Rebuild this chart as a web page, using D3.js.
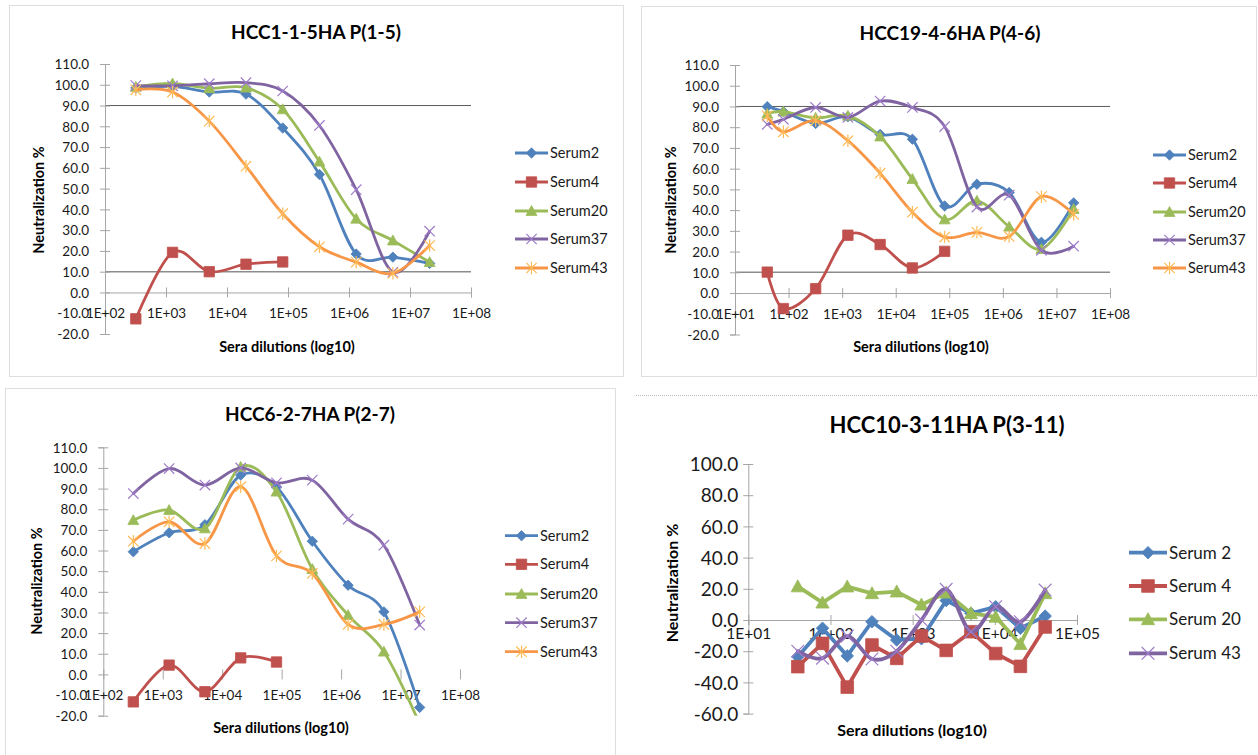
<!DOCTYPE html>
<html>
<head>
<meta charset="utf-8">
<script src="https://cdn.jsdelivr.net/npm/d3@7"></script>
<style>
  body { margin: 0; background: #fff; }
  svg { display: block; font-family: Lato, "Open Sans", sans-serif; }
</style>
</head>
<body>
<svg id="chart" width="1258" height="755"></svg>
<script>
// ---- data ----
const names = ["Serum2", "Serum4", "Serum20", "Serum37", "Serum43"];
const names4 = ["Serum 2", "Serum 4", "Serum 20", "Serum 43"];

const dil1 = [320, 1280, 5120, 20480, 81920, 327680, 1310720, 5242880, 20971520];
const p1Serum2 = [98.5, 99.2, 96.5, 95.5, 79.2, 56.8, 18.5, 17.0, 14.0];
const p1Serum4 = [-12.7, 19.3, 10.0, 13.6, 14.7];
const p1Serum20 = [99.0, 100.6, 98.3, 98.6, 88.2, 63.0, 35.5, 25.0, 14.6];
const p1Serum37 = [99.6, 99.5, 100.5, 101.0, 97.0, 80.4, 49.5, 9.8, 29.5];
const p1Serum43 = [97.6, 96.5, 82.5, 60.8, 37.9, 22.0, 14.6, 9.2, 22.6];

const dil2 = [40, 80, 320, 1280, 5120, 20480, 81920, 327680, 1310720, 5242880, 20971520];
const p2Serum2 = [89.9, 87.5, 81.8, 85.0, 76.5, 74.2, 42.0, 52.5, 48.5, 24.5, 43.5];
const p2Serum4 = [10.1, -7.5, 2.1, 27.9, 23.4, 12.1, 20.1];
const p2Serum20 = [86.5, 87.5, 84.5, 85.5, 75.5, 55.0, 35.5, 44.5, 32.0, 21.2, 40.5];
const p2Serum37 = [81.4, 83.8, 89.5, 84.7, 92.6, 89.5, 80.3, 41.5, 47.2, 20.6, 22.6];
const p2Serum43 = [85.5, 77.8, 83.2, 73.5, 57.8, 39.0, 27.0, 29.3, 27.3, 46.5, 38.0];

const dil3 = [320, 1280, 5120, 20480, 81920, 327680, 1310720, 5242880, 20971520];
const p3Serum2 = [59.4, 68.6, 72.5, 96.5, 90.8, 64.5, 43.2, 30.3, -16.0];
const p3Serum4 = [-13.3, 4.5, -8.4, 8.0, 6.0];
const p3Serum20 = [74.7, 79.6, 70.7, 100.5, 88.5, 51.0, 28.7, 11.0, -24.0];
const p3Serum37 = [87.6, 99.7, 91.7, 100.0, 92.8, 94.1, 75.2, 62.6, 23.9];
const p3Serum43 = [64.5, 73.9, 63.4, 90.9, 57.4, 48.9, 24.2, 24.2, 30.3];

const dil4 = [40, 80, 160, 320, 640, 1280, 2560, 5120, 10240, 20480, 40960];
const p4Serum2 = [-23.5, -5.3, -23.0, -1.1, -12.8, -12.0, 12.5, 4.3, 8.5, -5.3, 2.5];
const p4Serum4 = [-29.9, -15.0, -43.0, -16.0, -24.6, -10.3, -19.5, -7.5, -21.5, -29.7, -4.5];
const p4Serum20 = [21.5, 11.1, 21.4, 17.1, 18.2, 9.8, 17.5, 4.3, 2.0, -15.5, 17.1];
const p4Serum43 = [-20.0, -24.5, -10.3, -25.0, -20.0, 0.0, 19.7, -7.5, 8.5, -1.1, 19.2];

const yTicks1 = d3.range(-20, 111, 10);
const yTicks4 = d3.range(-60, 101, 20);
const decades1 = [1e2, 1e3, 1e4, 1e5, 1e6, 1e7, 1e8];
const decades2 = [1e1, 1e2, 1e3, 1e4, 1e5, 1e6, 1e7, 1e8];
const decades4 = [1e1, 1e2, 1e3, 1e4, 1e5];

// ---- styling ----
const colors = ["#4F81BD", "#C0504D", "#9BBB59", "#8064A2", "#F79646"];
const markerTypes = ["diamond", "square", "triangle", "x", "star"];

function makeSeries(list, vals, ids, smooth) {
    return list.map((name, i) => ({
        name: name,
        values: vals[i],
        color: colors[ids[i]],
        marker: markerTypes[ids[i]],
        smooth: smooth[i]
    }));
}

const panels = [
    {
        title: "HCC1-1-5HA P(1-5)", titleX: 316, titleY: 32, titleSize: 19,
        border: [9, 5, 614, 371], x: [1e2, 1e8], xr: [105, 471], y: [-20, 110], yr: [334, 64],
        yTicks: yTicks1, decades: decades1, refLines: [90, 10], xAxisLine: true,
        dil: dil1, yLabel: [39, 200], xLabel: [287, 347], axisSize: 14.5,
        tickSize: 13.5, xTickSize: 13.5, yPad: -16, xPad: 21,
        legend: {x1: 515, x2: 548, tx: 550, rows: [153, 182, 211, 239, 268], size: 14.5},
        lw: 2.8, ms: 5.2,
        series: makeSeries(names, [p1Serum2, p1Serum4, p1Serum20, p1Serum37, p1Serum43],
            [0, 1, 2, 3, 4], [true, true, true, true, true])
    },
    {
        title: "HCC19-4-6HA P(4-6)", titleX: 950, titleY: 33, titleSize: 19,
        border: [641, 6, 615, 370], x: [1e1, 1e8], xr: [735, 1110], y: [-20, 110], yr: [334.5, 65],
        yTicks: yTicks1, decades: decades2, refLines: [90, 10], xAxisLine: true,
        dil: dil2, yLabel: [671, 200], xLabel: [921, 347], axisSize: 14.5,
        tickSize: 13.5, xTickSize: 13.5, yPad: -16, xPad: 21,
        legend: {x1: 1153, x2: 1186, tx: 1188, rows: [155, 183, 212, 240, 268], size: 14.5},
        lw: 2.8, ms: 5.2,
        series: makeSeries(names, [p2Serum2, p2Serum4, p2Serum20, p2Serum37, p2Serum43],
            [0, 1, 2, 3, 4], [true, true, true, true, true])
    },
    {
        title: "HCC6-2-7HA P(2-7)", titleX: 310, titleY: 414, titleSize: 19,
        border: [5, 388, 610, 380], x: [1e2, 1e8], xr: [103.3, 460], y: [-20, 110], yr: [715.7, 447.3],
        yTicks: yTicks1, decades: decades1, refLines: [], xAxisLine: false,
        dil: dil3, yLabel: [37, 581], xLabel: [281, 728], axisSize: 14.5,
        tickSize: 13.5, xTickSize: 13.5, yPad: -16, xPad: 21,
        legend: {x1: 505, x2: 538, tx: 540, rows: [535.7, 564.3, 594, 622.7, 651.7], size: 14.5},
        lw: 2.8, ms: 5.2,
        series: makeSeries(names, [p3Serum2, p3Serum4, p3Serum20, p3Serum37, p3Serum43],
            [0, 1, 2, 3, 4], [true, true, true, true, true])
    },
    {
        title: "HCC10-3-11HA P(3-11)", titleX: 947, titleY: 425, titleSize: 22,
        border: null, x: [1e1, 1e5], xr: [748.3, 1077], y: [-60, 100], yr: [713.6, 464],
        yTicks: yTicks4, decades: decades4, refLines: [], xAxisLine: true,
        dil: dil4, yLabel: [672, 583], xLabel: [912, 730], axisSize: 16,
        tickSize: 19, xTickSize: 15.5, yPad: -10, xPad: 14,
        legend: {x1: 1129, x2: 1167, tx: 1169, rows: [552.7, 586, 619.3, 653.3], size: 17},
        lw: 3.8, ms: 6.3,
        series: makeSeries(names4, [p4Serum2, p4Serum4, p4Serum20, p4Serum43],
            [0, 1, 2, 3], [false, false, false, true])
    }
];

const svg = d3.select("#chart");
svg.append("rect").attr("width", 1258).attr("height", 755).attr("fill", "#fff");

// top border of the 4th panel only
svg.append("line")
    .attr("x1", 636).attr("x2", 1258).attr("y1", 395.5).attr("y2", 395.5)
    .attr("stroke", "#bdbdbd").attr("stroke-dasharray", "1,1");

function markerPath(type, s) {
    switch (type) {
        case "diamond": return `M0,${-s}L${s},0L0,${s}L${-s},0Z`;
        case "square": return `M${-s},${-s}h${2 * s}v${2 * s}h${-2 * s}Z`;
        case "triangle": return `M0,${-s * 1.05}L${s * 1.05},${s * 0.85}L${-s * 1.05},${s * 0.85}Z`;
        case "x": return `M${-s},${-s}L${s},${s}M${-s},${s}L${s},${-s}`;
        default: return `M${-s},${-s}L${s},${s}M${-s},${s}L${s},${-s}M0,${-s * 1.2}V${s * 1.2}`;
    }
}

function drawMarker(g, type, color, s) {
    const open = type === "x" || type === "star";
    g.append("path")
        .attr("d", markerPath(type, s))
        .attr("fill", open ? "none" : color)
        .attr("stroke", open ? d3.color(color).brighter(0.6) : color)
        .attr("stroke-width", open ? 1.2 : 0.8);
}

const fmtY = v => v.toFixed(1);
const fmtX = v => "1E+" + String(Math.round(Math.log10(v))).padStart(2, "0");

panels.forEach((p, pi) => {
    const g = svg.append("g").attr("class", "panel");

    if (p.border) {
        const [bx, by, bw, bh] = p.border;
        g.append("rect")
            .attr("x", bx + 0.5).attr("y", by + 0.5).attr("width", bw).attr("height", bh)
            .attr("fill", "none").attr("stroke", "#bdbdbd").attr("stroke-dasharray", "1,1");
    }

    const x = d3.scaleLog().domain(p.x).range(p.xr);
    const y = d3.scaleLinear().domain(p.y).range(p.yr);

    // title
    g.append("text")
        .attr("x", p.titleX).attr("y", p.titleY).attr("dy", "0.35em")
        .attr("text-anchor", "middle").attr("font-weight", 700)
        .attr("font-size", p.titleSize).attr("fill", "#000")
        .text(p.title);

    // reference lines
    p.refLines.forEach((v, i) => {
        g.append("line")
            .attr("x1", p.xr[0]).attr("x2", p.xr[1])
            .attr("y1", y(v)).attr("y2", y(v))
            .attr("stroke", i === 0 ? "#5a5a5a" : "#8c8c8c")
            .attr("stroke-width", i === 0 ? 1 : 1.6);
    });

    // y axis
    const ya = g.append("g")
        .attr("transform", `translate(${p.xr[0]},0)`)
        .call(d3.axisLeft(y).tickValues(p.yTicks).tickFormat(fmtY).tickSizeOuter(0).tickSize(5));
    ya.select(".domain").attr("stroke", "#a6a6a6");
    ya.selectAll(".tick line").attr("stroke", "#a6a6a6").attr("x1", 5).attr("x2", -5);
    ya.selectAll(".tick text")
        .attr("x", p.yPad).attr("dy", "0.35em")
        .attr("font-size", p.tickSize).attr("fill", "#1a1a1a")
        .attr("font-family", "Lato, sans-serif");

    // x axis at y = 0
    const xa = g.append("g")
        .attr("transform", `translate(0,${y(0)})`)
        .call(d3.axisBottom(x).tickValues(p.decades).tickFormat(fmtX).tickSizeOuter(0).tickSize(5));
    if (p.xAxisLine) xa.select(".domain").attr("stroke", "#a6a6a6");
    else xa.select(".domain").remove();
    xa.selectAll(".tick line").attr("stroke", "#a6a6a6").attr("y1", -5).attr("y2", 5);
    xa.selectAll(".tick text")
        .attr("y", p.xPad).attr("dy", "0.35em")
        .attr("font-size", p.xTickSize).attr("fill", "#1a1a1a")
        .attr("font-family", "Lato, sans-serif");

    // axis titles
    g.append("text")
        .attr("transform", `translate(${p.yLabel[0]},${p.yLabel[1]}) rotate(-90)`)
        .attr("dy", "0.35em").attr("text-anchor", "middle")
        .attr("font-weight", 700).attr("font-size", p.axisSize)
        .text("Neutralization %");
    g.append("text")
        .attr("x", p.xLabel[0]).attr("y", p.xLabel[1]).attr("dy", "0.35em")
        .attr("text-anchor", "middle").attr("font-weight", 700).attr("font-size", p.axisSize)
        .text("Sera dilutions (log10)");

    // clip for the plot area
    const clipId = "clip" + pi;
    g.append("clipPath").attr("id", clipId).append("rect")
        .attr("x", p.xr[0] - 10).attr("y", p.yr[1] - 10)
        .attr("width", p.xr[1] - p.xr[0] + 20).attr("height", p.yr[0] - p.yr[1] + 10);

    const plot = g.append("g").attr("clip-path", `url(#${clipId})`);

    p.series.forEach(s => {
        const pts = s.values.map((v, i) => [p.dil[i], v]);
        const line = d3.line()
            .x(d => x(d[0])).y(d => y(d[1]))
            .curve(s.smooth ? d3.curveCatmullRom.alpha(0) : d3.curveLinear);
        const sg = plot.append("g").attr("class", "series");
        sg.append("path")
            .attr("d", line(pts))
            .attr("fill", "none").attr("stroke", s.color)
            .attr("stroke-width", p.lw).attr("stroke-linejoin", "round").attr("stroke-linecap", "round");
        sg.selectAll(".pt").data(pts).enter().append("g")
            .attr("class", "pt")
            .attr("transform", d => `translate(${x(d[0])},${y(d[1])})`)
            .each(function () { drawMarker(d3.select(this), s.marker, s.color, p.ms); });
    });

    // legend
    const lg = g.append("g").attr("class", "legend");
    p.series.forEach((s, i) => {
        const ry = p.legend.rows[i];
        lg.append("line")
            .attr("x1", p.legend.x1).attr("x2", p.legend.x2).attr("y1", ry).attr("y2", ry)
            .attr("stroke", s.color).attr("stroke-width", p.lw);
        drawMarker(lg.append("g").attr("transform", `translate(${(p.legend.x1 + p.legend.x2) / 2},${ry})`),
            s.marker, s.color, p.ms);
        lg.append("text")
            .attr("x", p.legend.tx).attr("y", ry).attr("dy", "0.35em")
            .attr("font-size", p.legend.size).attr("fill", "#1a1a1a")
            .text(s.name);
    });
});
</script>
</body>
</html>
